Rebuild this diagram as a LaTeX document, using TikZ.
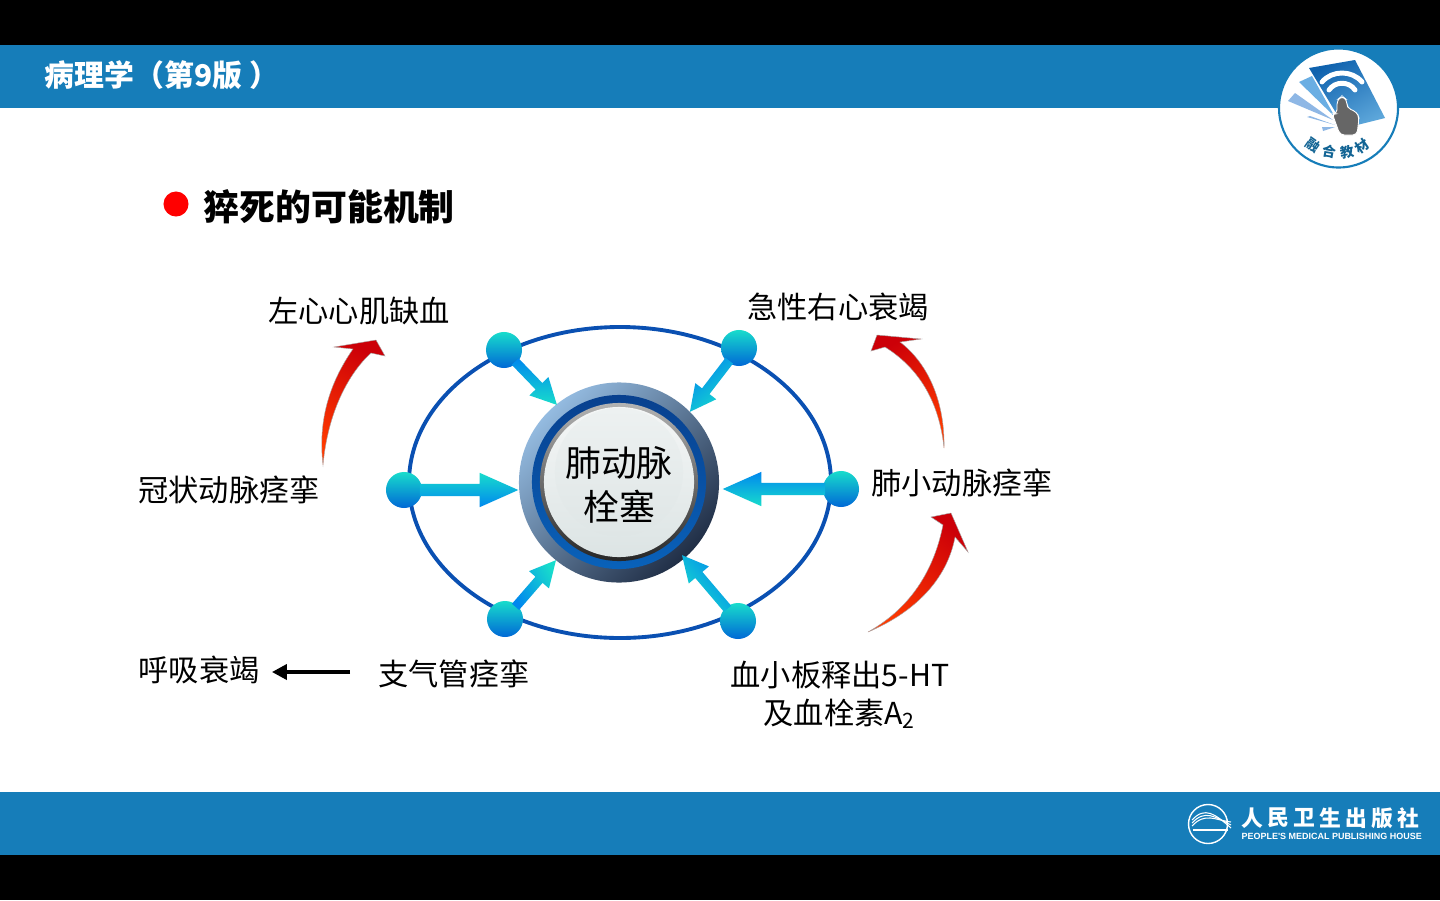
\documentclass[tikz,border=0pt]{standalone}
\usepackage{fontspec}
\usepackage{xcolor}
\setmainfont{Noto Sans CJK SC}
\newfontfamily\latinbold{Liberation Sans}
\usetikzlibrary{shapes.arrows,arrows.meta,calc}

\definecolor{bandblue}{HTML}{167DB9}
\definecolor{ringblue}{HTML}{0A50B2}
\definecolor{dotteal}{HTML}{18DCCC}
\definecolor{dotmid}{HTML}{0CAEE6}
\definecolor{dotblue}{HTML}{0068D6}
\definecolor{flowblue}{HTML}{0088EE}
\definecolor{hublight}{HTML}{94BBE0}
\definecolor{hubmid}{HTML}{6487B2}
\definecolor{hubdark}{HTML}{202E46}
\definecolor{faceone}{HTML}{F4F6F6}
\definecolor{facetwo}{HTML}{DCE4E4}
\definecolor{glowone}{HTML}{EDF1F1}
\definecolor{glowtwo}{HTML}{DFE6E6}
\definecolor{redhead}{HTML}{CC0008}
\definecolor{redmid}{HTML}{FA0000}
\definecolor{redtail}{HTML}{FF3A00}
\definecolor{cardtop}{HTML}{0F62AE}
\definecolor{cardend}{HTML}{5CA6DA}

\tikzset{
  label/.style={font=\fontsize{8.6pt}{10.7pt}\selectfont, align=center},
  dotnode/.style={circle, minimum size=0.36cm, inner sep=0pt,
    top color=dotteal, middle color=dotmid, bottom color=dotblue},
  flowarrow/.style={single arrow, inner xsep=0pt, sloped, allow upside down,
    pos=1, anchor=tip, top color=dotteal, middle color=dotmid, bottom color=flowblue},
  bigarrow/.style={flowarrow, inner ysep=0.055cm,
    single arrow head extend=0.11cm, single arrow tip angle=48},
  smallarrow/.style={flowarrow, inner ysep=0.04cm,
    single arrow head extend=0.085cm, single arrow tip angle=54},
  redarrow/.style={draw=gray!70, line width=0.12pt, top color=redhead, middle color=redmid, bottom color=redtail},
  ring/.style={circle, inner sep=0pt},
}

\begin{document}
\begin{tikzpicture}[x=0.01cm,y=-0.01cm]
\useasboundingbox[fill=black] (0,0) rectangle (1440,900);

% Slide bands
\fill[white] (0,108) rectangle (1440,792);
\fill[bandblue] (0,45) rectangle (1440,108);
\fill[bandblue] (0,792) rectangle (1440,855);
\node[anchor=west, inner sep=0pt, text=white, font=\fontsize{8.5pt}{10pt}\selectfont\bfseries] (title) at (44,75) {病理学（第9版\hspace{2pt}）};

% Heading
\node[circle, fill=red, minimum size=0.25cm, inner sep=0pt] (bullet) at (176,204) {};
\node[anchor=west, inner sep=0pt, font=\fontsize{10.2pt}{12pt}\selectfont\bfseries] (heading) at (203,207) {猝死的可能机制};

% Ring of causes
\draw[ringblue, line width=1.1pt] (620,482.5) ellipse (211 and 155.5);
\foreach \name/\x/\y in {dotTL/504/350, dotTR/739/348, dotW/404/490, dotE/841/489, dotBL/505/619, dotBR/738/621}{
  \node[dotnode] (\name) at (\x,\y) {};
}

% Centre button
\node[ring, minimum size=2cm, top color=hublight, middle color=hubmid, bottom color=hubdark, shading angle=45] (hub) at (619,482.5) {};
\node[ring, minimum size=1.74cm, top color=ringblue!80!black, bottom color=ringblue!90!cyan] (hubblue) at (619,482) {};
\node[ring, minimum size=1.58cm, top color=gray!60, bottom color=black!85] (hubedge) at (619,482) {};
\node[ring, minimum size=1.5cm, top color=faceone, bottom color=facetwo] (hubface) at (619,482) {};
\node[ring, minimum size=1.28cm, top color=glowone, bottom color=glowtwo] (hubglow) at (619,472) {};
\node[align=center, font=\fontsize{10.2pt}{12.5pt}\selectfont] (hubtext) at (619,485) {肺动脉\\栓塞};

% Arrows into the button
\foreach \name/\x/\y in {tipTL/558/406, tipTR/689/413, tipW/520/490, tipE/721/489, tipBL/557/559, tipBR/681/554}{
  \coordinate (\name) at (\x,\y);
}
\foreach \from/\to/\kind/\ang in {dotW/tipW/bigarrow/0, dotE/tipE/bigarrow/180, dotTL/tipTL/smallarrow/180, dotTR/tipTR/smallarrow/-140, dotBL/tipBL/smallarrow/-60, dotBR/tipBR/smallarrow/130}{
  \path let \p1=($(\from)-(\to)$), \n1={veclen(\x1,\y1)-5pt} in
    (\from) -- (\to) node[\kind, shading angle=\ang, minimum height=\n1] (arrow-\from) {};
}

% Labels
\node[label] (ischemia) at (359,311) {左心心肌缺血};
\node[label] (rightfail) at (838,307) {急性右心衰竭};
\node[label] (coronary) at (229,490) {冠状动脉痉挛};
\node[label] (pulmonary) at (962,483) {肺小动脉痉挛};
\node[label] (breathfail) at (199,670) {呼吸衰竭};
\node[label] (bronchus) at (454,674) {支气管痉挛};
\node[label] (platelet) at (840,695) {血小板释出5-HT\\及血栓素A\textsubscript{2}};
\coordinate (breathstart) at (350,672);
\draw[line width=1.1pt, -{Triangle[length=0.15cm,width=0.15cm]}]
  (breathstart) -- (breathstart -| breathfail.east);

% Red curved arrows
\path[redarrow, shading angle=-30] (323,465) .. controls (318,423) and (328,385) .. (353,349)
  -- (334,347) -- (376,340) -- (385,356) -- (371,353) .. controls (350,372) and (328,410) .. cycle;
\path[redarrow, shading angle=30] (944,448) .. controls (940,410) and (925,372) .. (885,347)
  -- (871,351) -- (877,335) -- (921,339) -- (900,342) .. controls (930,365) and (945,405) .. cycle;
\path[redarrow, shading angle=-40] (868,632) .. controls (907,610) and (933,575) .. (943,525)
  -- (931,517) -- (951,513) -- (968,552) -- (955,537) .. controls (948,575) and (920,610) .. cycle;

% Top badge
\filldraw[white, draw=bandblue, line width=0.6pt] (1338.5,108) circle (59.5);
\shade[top color=cardtop, middle color=cardtop!65!cardend, bottom color=cardend, shading angle=30]
  (1309,68) -- (1355,60) -- (1385,118) -- (1345,128) -- cycle;
\fill[cyan!70!blue!60!white] (1299,82) -- (1312,76) -- (1335,117) -- cycle;
\fill[cyan!60!blue!45!white] (1288,101) -- (1295,93) -- (1333,120) -- cycle;
\fill[cyan!60!blue!45!white] (1307,117) -- (1310,116) -- (1335,125) -- cycle;
\fill[cyan!60!blue!45!white] (1322,127) -- (1323,131) -- (1335,127) -- cycle;
\draw[white, line width=1.4pt, line cap=round] (1322,82) .. controls (1332,70) and (1352,70) .. (1362,82);
\draw[white, line width=1.4pt, line cap=round] (1329,90) .. controls (1335,81) and (1349,81) .. (1355,90);
\filldraw[fill=black!60, draw=white, line width=0.25pt, rounded corners=1.2pt]
  (1337,100) -- (1342,96) -- (1347,100) -- (1347,108) -- (1357,112) -- (1359,118) -- (1357,135)
  -- (1340,135) -- (1332,113) -- (1337,114) -- cycle;
\foreach \ch/\x/\y/\rot in {融/1313/145/-35, 合/1329/152/-10, 教/1347/152/10, 材/1362/146/35}{
  \node[text=bandblue!80!black, rotate=\rot, inner sep=0pt, font=\fontsize{3.9pt}{4pt}\selectfont\bfseries] (badge\x) at (\x,\y) {\ch};
}

% Publisher mark
\draw[white, line width=0.4pt] (1208,824) circle (19.5);
\foreach \dy in {0,3,6}{
  \draw[white, line width=0.3pt] (1192,{826-\dy}) .. controls (1205,{812-\dy}) and (1215,{820-\dy}) .. (1231,{822+\dy});
}
\draw[white, line width=0.5pt] (1193,830) -- (1228,830);
\foreach \ch/\x in {人/1252, 民/1278, 卫/1304, 生/1330, 出/1356, 版/1382, 社/1408}{
  \node[text=white, inner sep=0pt, font=\fontsize{6.2pt}{6.5pt}\selectfont\bfseries] (press\x) at (\x,818) {\ch};
}
\node[anchor=west, text=white, inner sep=0pt, font=\latinbold\fontsize{2.55pt}{3pt}\selectfont\bfseries] (pressname) at (1241,836) {PEOPLE'S MEDICAL PUBLISHING HOUSE};
\end{tikzpicture}
\end{document}
